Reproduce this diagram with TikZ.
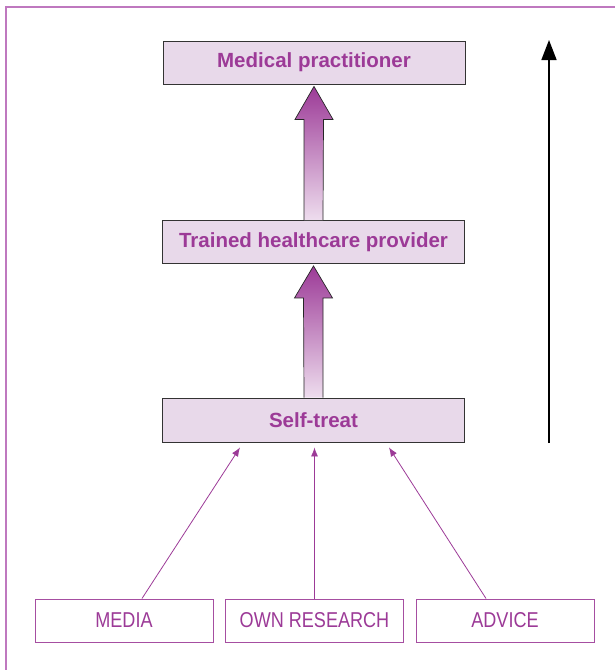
\documentclass[tikz,border=0pt]{standalone}
\usepackage{fontspec}
\usetikzlibrary{arrows.meta,calc}
\newfontfamily\headfont{Liberation Sans}
\newfontfamily\condfont[FakeStretch=0.84]{Liberation Sans}
\definecolor{mauve}{HTML}{9C3A97}
\definecolor{boxfill}{HTML}{E8D9EA}
\definecolor{framec}{HTML}{BF78BF}
\definecolor{lightarrow}{HTML}{EEDDEE}
\tikzset{
  stage/.style={draw=black!80, line width=0.9pt, fill=boxfill, minimum height=43pt, minimum width=302pt, inner sep=0pt,
    text=mauve, font=\headfont\bfseries\fontsize{20.5}{22}\selectfont},
  source/.style={draw=mauve!90, line width=1pt, fill=white, minimum height=43pt, minimum width=178pt, inner sep=0pt,
    text=mauve, font=\condfont\fontsize{21.5}{23}\selectfont},
  feed/.style={draw=mauve, line width=0.8pt, -{Latex[length=9pt,width=7pt]}},
  bigarrow/.style={draw=black!85, line width=0.7pt, top color=mauve, bottom color=lightarrow}
}
\begin{document}
\begin{tikzpicture}[x=1pt,y=-1pt]
\useasboundingbox (0,0) rectangle (614,670);
\draw[framec, line width=2pt] (6,672) -- (6,7) -- (616,7);

\node[stage] (med) at (314,62.5) {Medical practitioner};
\node[stage] (trained) at (313.5,242) {Trained healthcare provider};
\node[stage, minimum height=44pt] (self) at (313.5,420) {Self-treat};

\node[source] (media) at (124,620.5) {MEDIA};
\node[source] (own) at (314.5,620.5) {OWN RESEARCH};
\node[source] (advice) at (505,620.5) {ADVICE};

% big gradient arrows
\shade[bigarrow] ($(trained.north)+(-9.5,0)$) -- ($(med.south)+(-10,35)$) -- ($(med.south)+(-19,35)$)
  -- ($(med.south)+(0,2)$) -- ($(med.south)+(19,35)$) -- ($(med.south)+(9.5,35)$) -- ($(trained.north)+(9.5,0)$);
\shade[bigarrow] ($(self.north)+(-9.5,0)$) -- ($(trained.south)+(-10,34)$) -- ($(trained.south)+(-19,34)$)
  -- ($(trained.south)+(0,2)$) -- ($(trained.south)+(19,34)$) -- ($(trained.south)+(9.5,34)$) -- ($(self.north)+(9.5,0)$);

% feeding arrows
\draw[feed] ($(media.north)+(18,0)$) -- ($(self.south)+(-73.5,5)$);
\draw[feed] (own.north) -- ($(self.south)+(1,5)$);
\draw[feed] ($(advice.north)+(-19,0)$) -- ($(self.south)+(75.5,5)$);

% right black arrow
\coordinate (abot) at (549,443);
\coordinate (atop) at (549,40);
\draw[black, line width=1.6pt, -{Triangle[length=20pt,width=15pt]}] (abot) -- (atop);
\end{tikzpicture}
\end{document}
